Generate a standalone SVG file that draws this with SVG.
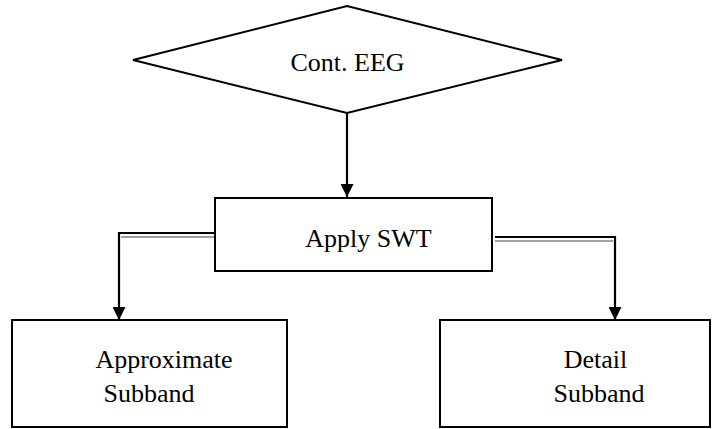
<svg xmlns="http://www.w3.org/2000/svg" width="712" height="429" viewBox="0 0 712 429">
<style>
.shape{fill:#fff;stroke:#000;stroke-width:2}
.lbl{font-family:"Liberation Serif","Times New Roman",serif;font-size:26px;fill:#000;text-anchor:middle}
.ln{fill:none;stroke:#000;stroke-width:2.2}
.sh{fill:none;stroke:#a0a0a0;stroke-width:2.2}
</style>
<defs>
<marker id="ah" viewBox="0 0 12 12" refX="12" refY="6" markerWidth="13" markerHeight="13" markerUnits="userSpaceOnUse" orient="auto">
<path d="M0,0 L12,6 L0,12 Z" fill="#000"/>
</marker>
</defs>
<g id="connectors">
<line class="ln" x1="347" y1="113" x2="347" y2="197" marker-end="url(#ah)"/>
<line class="sh" x1="217" y1="237" x2="121" y2="237"/>
<polyline class="ln" points="217,233 119,233 119,320" marker-end="url(#ah)"/>
<line class="sh" x1="495" y1="241" x2="613" y2="241"/>
<polyline class="ln" points="495,237 615,237 615,320" marker-end="url(#ah)"/>
</g>
<g id="cont-eeg">
<polygon class="shape" points="133,60 347,6 562,60 347,113"/>
<text class="lbl" x="347.5" y="71">Cont. EEG</text>
</g>
<g id="apply-swt">
<rect class="shape" x="215" y="198" width="277" height="73"/>
<text class="lbl" x="368.5" y="247">Apply SWT</text>
</g>
<g id="approximate">
<rect class="shape" x="12" y="320" width="275" height="107"/>
<text class="lbl" x="164" y="368">Approximate</text>
<text class="lbl" x="149" y="402">Subband</text>
</g>
<g id="detail">
<rect class="shape" x="440" y="320" width="270" height="107"/>
<text class="lbl" x="595.5" y="368">Detail</text>
<text class="lbl" x="599" y="402">Subband</text>
</g>
</svg>
